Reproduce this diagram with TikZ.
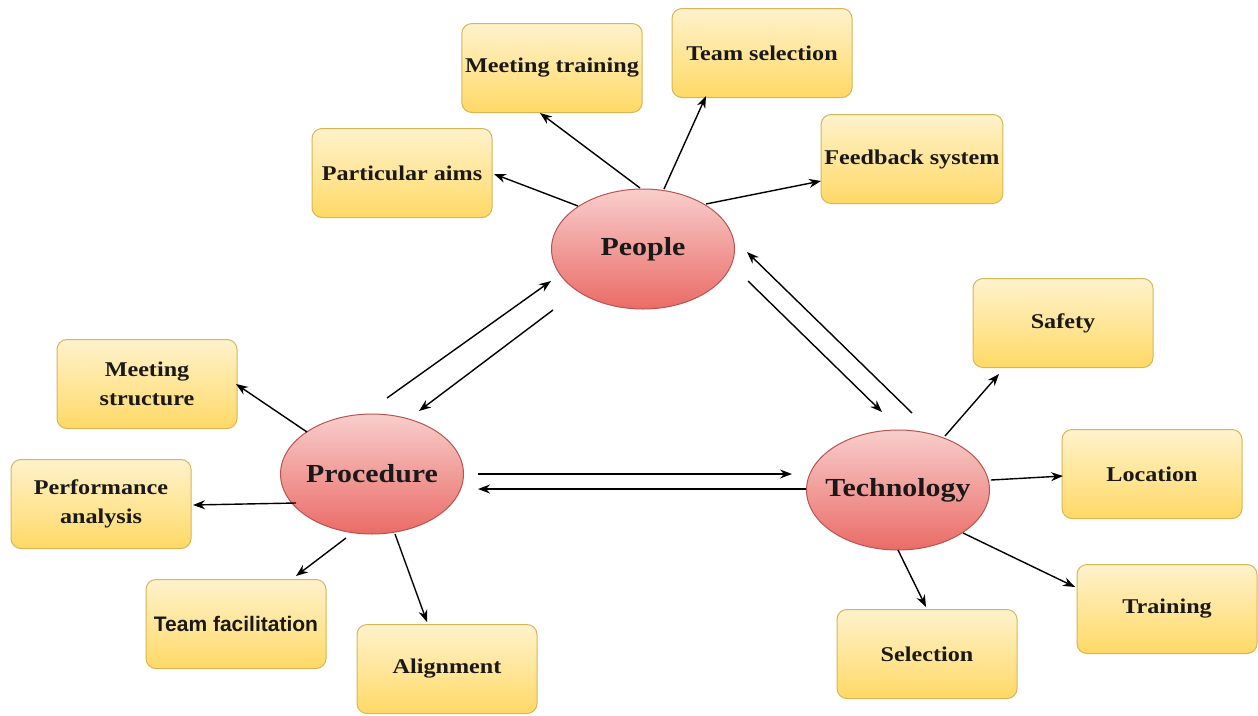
\documentclass[tikz,border=0pt]{standalone}
\usepackage{fontspec}
\newfontfamily\lblfont[FakeStretch=1.15]{Liberation Serif}
\newfontfamily\sanslbl{Liberation Sans}
\usetikzlibrary{arrows.meta,shapes.geometric}
\definecolor{boxtop}{HTML}{FFF2CC}
\definecolor{boxbot}{HTML}{FFD966}
\definecolor{boxline}{HTML}{D6B656}
\definecolor{elltop}{HTML}{F8CECC}
\definecolor{ellbot}{HTML}{EA6B66}
\definecolor{ellline}{HTML}{B85450}
\tikzset{
  leaf/.style={rectangle, rounded corners=10pt, minimum width=180pt, minimum height=89pt,
    draw=boxline, line width=1pt, top color=boxtop, bottom color=boxbot,
    align=center, text=black!90, font=\lblfont\bfseries\fontsize{21}{29}\selectfont},
  hub/.style={ellipse, minimum width=183pt, minimum height=120pt, inner ysep=0pt, inner xsep=-40pt,
    draw=ellline, line width=1pt, top color=elltop, bottom color=ellbot,
    text=black!90, font=\lblfont\bfseries\fontsize{26}{28}\selectfont},
  link/.style={line width=1.4pt, -{Stealth[length=12pt,width=9pt]}}
}
\begin{document}
\begin{tikzpicture}[x=1pt,y=-1pt]
\useasboundingbox[fill=white] (0,0) rectangle (1258,715);
% hubs
\node[hub] (people) at (643,249) {People};
\node[hub] (proc) at (372,474) {Procedure};
\node[hub] (tech) at (898,490) {Technology};
% leaves
\node[leaf] (pa) at (402,173) {Particular aims};
\node[leaf] (mt) at (552,68) {Meeting training};
\node[leaf] (ts) at (762,53) {Team selection};
\node[leaf] (fb) at (912,159) {Feedback system};
\node[leaf] (sf) at (1063,323) {Safety};
\node[leaf] (loc) at (1152,474) {Location};
\node[leaf] (tr) at (1167,609) {Training};
\node[leaf] (sel) at (927,654) {Selection};
\node[leaf] (ms) at (147,384) {Meeting\\structure};
\node[leaf] (pfa) at (101,504) {Performance\\analysis};
\node[leaf, font=\sanslbl\bfseries\fontsize{21}{24}\selectfont] (tf) at (236,624) {Team facilitation};
\node[leaf] (al) at (447,669) {Alignment};
% people spokes
\draw[link] ([shift={(-65,-43)}]people.center) -- ([shift={(92,1)}]pa.center);
\draw[link] ([shift={(-3,-61)}]people.center) -- ([shift={(-12,45)}]mt.center);
\draw[link] ([shift={(21,-60)}]people.center) -- ([shift={(-56,43)}]ts.center);
\draw[link] ([shift={(63,-45)}]people.center) -- ([shift={(-91,22)}]fb.center);
% hub pairs
\draw[link] ([shift={(15,-76)}]proc.center) -- ([shift={(-92,32)}]people.center);
\draw[link] ([shift={(-90,61)}]people.center) -- ([shift={(47,-63)}]proc.center);
\draw[link] ([shift={(14,-77)}]tech.center) -- ([shift={(104,3)}]people.center);
\draw[link] ([shift={(105,32)}]people.center) -- ([shift={(-16,-78)}]tech.center);
\draw[link] ([shift={(106,0)}]proc.center) -- ([shift={(-106,-16)}]tech.center);
\draw[link] ([shift={(-92,-1)}]tech.center) -- ([shift={(106,15)}]proc.center);
% procedure spokes
\draw[link] ([shift={(-65,-42)}]proc.center) -- ([shift={(89,0)}]ms.center);
\draw[link] ([shift={(-76,29)}]proc.center) -- ([shift={(92,1)}]pfa.center);
\draw[link] ([shift={(-26,64)}]proc.center) -- ([shift={(60,-48)}]tf.center);
\draw[link] ([shift={(23,60)}]proc.center) -- ([shift={(-20,-47)}]al.center);
% technology spokes
\draw[link] ([shift={(47,-54)}]tech.center) -- ([shift={(-64,51)}]sf.center);
\draw[link] ([shift={(93,-10)}]tech.center) -- ([shift={(-89,2)}]loc.center);
\draw[link] ([shift={(65,43)}]tech.center) -- ([shift={(-92,-22)}]tr.center);
\draw[link] ([shift={(0,60)}]tech.center) -- ([shift={(-1,-47)}]sel.center);
\end{tikzpicture}
\end{document}
